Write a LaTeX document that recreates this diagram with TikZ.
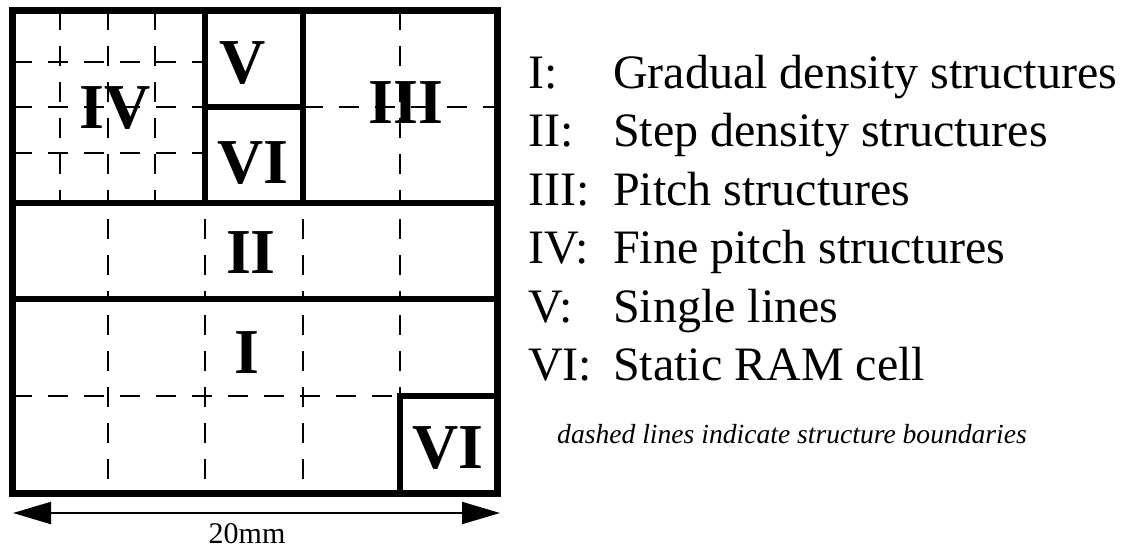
\documentclass[tikz,border=0pt]{standalone}
\usepackage{fontspec}
\setmainfont{Liberation Serif}
\usetikzlibrary{arrows.meta}

\begin{document}
\begin{tikzpicture}[x=1pt,y=-1pt, % coordenadas en pixeles, y hacia abajo
    outer/.style={line width=7pt},
    wall/.style={line width=6pt},
    bound/.style={line width=2.5pt, dash pattern=on 20pt off 16pt},
    region/.style={font=\fontsize{64}{64}\selectfont\bfseries, inner sep=0pt, anchor=base},
    key/.style={font=\fontsize{48}{48}\selectfont, inner sep=0pt, anchor=base west}]

    \useasboundingbox (0,0) rectangle (1127,550);

    % Rejilla fina de IV
    \foreach \x in {60,108,155} \draw[bound] (\x,10) -- (\x,203);
    \foreach \y in {62,107,153} \draw[bound] (12,\y) -- (205,\y);

    % Rejilla de III
    \draw[bound] (400,10) -- (400,203);
    \draw[bound] (303,107) -- (497,107);

    % Franja II
    \foreach \x in {108,205,303,400} \draw[bound, dash phase=20pt] (\x,203) -- (\x,299);

    % Zona I
    \foreach \x in {108,205,303} \draw[bound, dash phase=20pt] (\x,299) -- (\x,493);
    \draw[bound, dash phase=20pt] (400,299) -- (400,396);
    \draw[bound] (12,396) -- (400,396);

    % Paredes gruesas
    \draw[wall] (205,10) -- (205,203);
    \draw[wall] (303,10) -- (303,203);
    \draw[wall] (205,107) -- (303,107);
    \draw[wall] (12,203) -- (497,203);
    \draw[wall] (12,299) -- (497,299);
    \draw[wall] (400,493) -- (400,396) -- (497,396);
    \draw[outer] (12,10) rectangle (497,493);

    % Etiquetas de las zonas
    \node[region] (IV)   at (115,128) {IV};
    \node[region] (V)    at (243,83)  {V};
    \node[region] (VIa)  at (253,183) {VI};
    \node[region] (III)  at (406,123) {III};
    \node[region] (II)   at (251,273) {II};
    \node[region] (I)    at (247,373) {I};
    \node[region] (VIb)  at (448,468) {VI};

    % Cota de 20mm
    \coordinate (arrL) at (13,513);
    \coordinate (arrR) at (500,513);
    \draw[line width=2pt, {Triangle[length=38pt,width=22pt]}-{Triangle[length=38pt,width=22pt]}] (arrL) -- (arrR);
    \node[font=\fontsize{30}{30}\selectfont, inner sep=0pt, anchor=base] (mm) at (247,543) {20mm};

    % Leyenda
    \node[key] (kI)   at (528,88)    {I:};
    \node[key] (kII)  at (528,146.5) {II:};
    \node[key] (kIII) at (528,205)   {III:};
    \node[key] (kIV)  at (528,263.5) {IV:};
    \node[key] (kV)   at (528,322)   {V:};
    \node[key] (kVI)  at (528,380.5) {VI:};
    \node[key] (tI)   at (613,88)    {Gradual density structures};
    \node[key] (tII)  at (613,146.5) {Step density structures};
    \node[key] (tIII) at (613,205)   {Pitch structures};
    \node[key] (tIV)  at (613,263.5) {Fine pitch structures};
    \node[key] (tV)   at (613,322)   {Single lines};
    \node[key] (tVI)  at (613,380.5) {Static RAM cell};

    \node[font=\fontsize{27.6}{27.6}\selectfont\itshape, inner sep=0pt, anchor=base west] (note) at (557,443) {dashed lines indicate structure boundaries};

\end{tikzpicture}
\end{document}
